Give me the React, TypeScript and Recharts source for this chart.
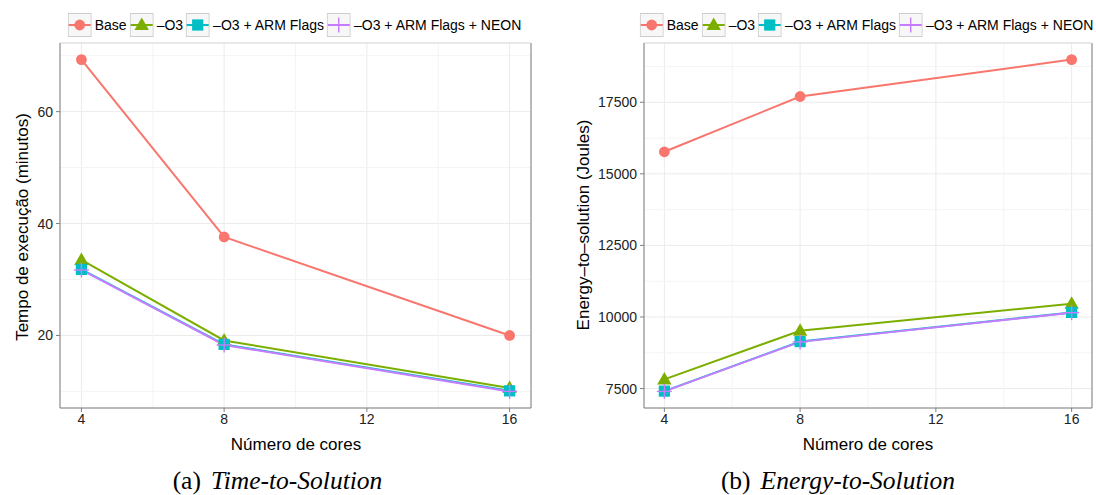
import React from 'react';
import { LineChart, Line, XAxis, YAxis, CartesianGrid, ReferenceLine } from 'recharts';

// ---- Data ----
const cores = [4, 8, 16];
const seriesNames = ['Base', '–O3', '–O3 + ARM Flags', '–O3 + ARM Flags + NEON'];
const seriesKeys = ['base', 'o3', 'arm', 'neon'];
const seriesColors = ['#F8766D', '#7CAE00', '#00BFC4', '#C77CFF'];
const seriesShapes = ['circle', 'triangle', 'square', 'plus'];

const timeBase = [69.3, 37.6, 20.0];
const timeO3 = [33.5, 19.1, 10.6];
const timeArm = [31.8, 18.4, 10.1];
const timeNeon = [31.7, 18.3, 10.0];

const energyBase = [15770, 17700, 18990];
const energyO3 = [7820, 9520, 10460];
const energyArm = [7410, 9140, 10160];
const energyNeon = [7400, 9130, 10150];

const xTicks = [4, 8, 12, 16];
const xMinorTicks = [6, 10, 14];
const timeTicks = [20, 40, 60];
const timeMinorTicks = [10, 30, 50, 70];
const energyTicks = [7500, 10000, 12500, 15000, 17500];
const energyMinorTicks = [8750, 11250, 13750, 16250, 18750];

const FONT = '"Liberation Sans", Arial, Helvetica, sans-serif';

function buildRows(series: number[][]) {
  return cores.map((c, i) => {
    const row: any = { x: c };
    seriesKeys.forEach((k, s) => (row[k] = series[s][i]));
    return row;
  });
}

function expand(vals: number[]): [number, number] {
  const lo = Math.min(...vals);
  const hi = Math.max(...vals);
  const r = hi - lo;
  return [lo - 0.05 * r, hi + 0.05 * r];
}

function Marker({ shape, cx, cy, color }: { shape: string; cx: number; cy: number; color: string }) {
  if (shape === 'circle') return <circle cx={cx} cy={cy} r={5.4} fill={color} />;
  if (shape === 'triangle')
    return <polygon points={`${cx},${cy - 7.5} ${cx - 7.2},${cy + 5} ${cx + 7.2},${cy + 5}`} fill={color} />;
  if (shape === 'square') return <rect x={cx - 5.6} y={cy - 5.6} width={11.2} height={11.2} fill={color} />;
  return (
    <g stroke={color} strokeWidth={1.4}>
      <line x1={cx - 7.5} y1={cy} x2={cx + 7.5} y2={cy} />
      <line x1={cx} y1={cy - 7.5} x2={cx} y2={cy + 7.5} />
    </g>
  );
}

function Legend({ center }: { center: number }) {
  return (
    <div
      style={{
        position: 'absolute',
        top: 13,
        left: center,
        transform: 'translateX(-50%)',
        display: 'flex',
        alignItems: 'center',
        whiteSpace: 'nowrap',
        fontFamily: FONT,
        fontSize: 14,
        color: '#000',
      }}
    >
      {seriesNames.map((n, i) => (
        <div key={n} style={{ display: 'flex', alignItems: 'center' }}>
          <svg width={24} height={24} style={{ display: 'block' }}>
            <rect x={0.5} y={0.5} width={23} height={23} fill="#F7F7F7" stroke="#CCCCCC" />
            <line x1={1} y1={12} x2={23} y2={12} stroke={seriesColors[i]} strokeWidth={1.9} />
            <Marker shape={seriesShapes[i]} cx={12} cy={12} color={seriesColors[i]} />
          </svg>
          <span style={{ marginLeft: 3, marginRight: 3 }}>{n}</span>
        </div>
      ))}
    </div>
  );
}

type PanelProps = {
  left: number;
  width: number;
  marginLeft: number;
  marginRight: number;
  yWidth: number;
  rows: any[];
  yDomain: [number, number];
  yTicks: number[];
  yMinor: number[];
};

function Panel({ left, width, marginLeft, marginRight, yWidth, rows, yDomain, yTicks, yMinor }: PanelProps) {
  const xDomain = expand(cores);
  return (
    <div style={{ position: 'absolute', left, top: 0, width, height: 460, fontFamily: FONT }}>
      <LineChart
        width={width}
        height={460}
        data={rows}
        margin={{ top: 43, right: marginRight, bottom: 22, left: marginLeft }}
      >
        <CartesianGrid stroke="#EBEBEB" strokeWidth={1} />
        {xMinorTicks.map((v) => (
          <ReferenceLine key={'xm' + v} x={v} stroke="#F4F4F4" strokeWidth={1} />
        ))}
        {yMinor.map((v) => (
          <ReferenceLine key={'ym' + v} y={v} stroke="#F4F4F4" strokeWidth={1} />
        ))}
        <ReferenceLine x={xDomain[1]} stroke="#7F7F7F" strokeWidth={1} ifOverflow="visible" />
        <ReferenceLine y={yDomain[1]} stroke="#DDDDDD" strokeWidth={1} ifOverflow="visible" />
        <XAxis
          dataKey="x"
          type="number"
          domain={xDomain}
          ticks={xTicks}
          allowDataOverflow
          interval={0}
          height={30}
          tickSize={4}
          tickMargin={2}
          axisLine={{ stroke: '#7F7F7F' }}
          tickLine={{ stroke: '#7F7F7F' }}
          tick={{ fill: '#222222', fontSize: 14 }}
        />
        <YAxis
          type="number"
          domain={yDomain}
          ticks={yTicks}
          allowDataOverflow
          interval={0}
          width={yWidth}
          tickSize={4}
          tickMargin={3}
          axisLine={{ stroke: '#7F7F7F' }}
          tickLine={{ stroke: '#7F7F7F' }}
          tick={{ fill: '#222222', fontSize: 14 }}
        />
        {seriesKeys.map((k, i) => (
          <Line
            key={k}
            type="linear"
            dataKey={k}
            stroke={seriesColors[i]}
            strokeWidth={2}
            isAnimationActive={false}
            activeDot={false}
            dot={(p: any) => (
              <Marker
                key={`${k}-${p.index}`}
                shape={seriesShapes[i]}
                cx={p.cx}
                cy={p.cy}
                color={seriesColors[i]}
              />
            )}
          />
        ))}
      </LineChart>
    </div>
  );
}

export default function App() {
  const timeRows = buildRows([timeBase, timeO3, timeArm, timeNeon]);
  const energyRows = buildRows([energyBase, energyO3, energyArm, energyNeon]);
  const timeDomain = expand([...timeBase, ...timeO3, ...timeArm, ...timeNeon]);
  const energyDomain = expand([...energyBase, ...energyO3, ...energyArm, ...energyNeon]);

  return (
    <div style={{ position: 'absolute', left: 0, top: 0, width: 1096, height: 495, background: '#fff', overflow: 'hidden' }}>
      <Panel
        left={0}
        width={548}
        marginLeft={20}
        marginRight={17}
        yWidth={40}
        rows={timeRows}
        yDomain={timeDomain}
        yTicks={timeTicks}
        yMinor={timeMinorTicks}
      />
      <Panel
        left={548}
        width={548}
        marginLeft={36}
        marginRight={4}
        yWidth={60}
        rows={energyRows}
        yDomain={energyDomain}
        yTicks={energyTicks}
        yMinor={energyMinorTicks}
      />
      <Legend center={296} />
      <Legend center={868} />
      <svg width={1096} height={495} style={{ position: 'absolute', left: 0, top: 0, pointerEvents: 'none' }}>
        <g fontFamily={FONT} fontSize={17} fill="#000">
          <text x={296} y={450} textAnchor="middle">Número de cores</text>
          <text x={868} y={450} textAnchor="middle">Número de cores</text>
          <text x={28} y={227} textAnchor="middle" transform="rotate(-90 28 227)">Tempo de execução (minutos)</text>
          <text x={589} y={225} textAnchor="middle" transform="rotate(-90 589 225)">Energy–to–solution (Joules)</text>
        </g>
        <g fontFamily='"Liberation Serif", "Times New Roman", serif' fontSize={25.5} fill="#000">
          <text x={277.5} y={488.5} textAnchor="middle">
            <tspan>(a)</tspan>
            <tspan dx={10} fontStyle="italic">Time-to-Solution</tspan>
          </text>
          <text x={838} y={488.5} textAnchor="middle">
            <tspan>(b)</tspan>
            <tspan dx={10} fontStyle="italic">Energy-to-Solution</tspan>
          </text>
        </g>
      </svg>
    </div>
  );
}
